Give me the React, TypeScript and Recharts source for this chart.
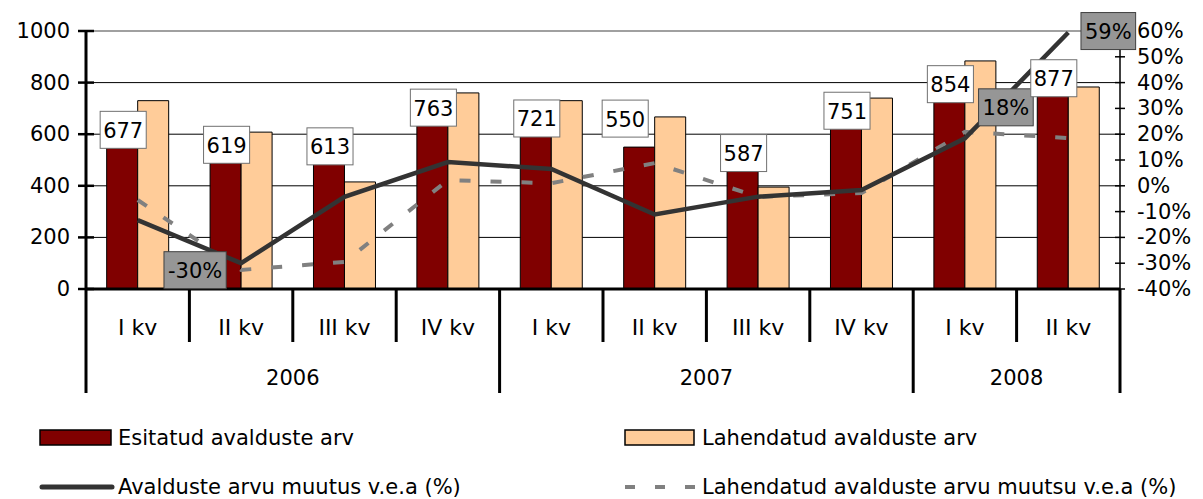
import React from 'react';
import {
  ComposedChart, Bar, Line, XAxis, YAxis, CartesianGrid, ReferenceLine, LabelList,
} from 'recharts';

// ---------- data ----------
const quarters = ['I kv', 'II kv', 'III kv', 'IV kv', 'I kv', 'II kv', 'III kv', 'IV kv', 'I kv', 'II kv'];
const years = ['2006', '2006', '2006', '2006', '2007', '2007', '2007', '2007', '2008', '2008'];
const esitatud = [677, 619, 613, 763, 721, 550, 587, 751, 854, 877];
const lahendatud = [730, 608, 415, 760, 730, 667, 395, 740, 884, 783];
const muutus = [-13.3, -30, -4.3, 9.2, 6.5, -11.1, -4.2, -1.6, 18.4, 59.4];
const lahMuutus = [-5.5, -32.6, -29.5, 2.2, 1, 8.8, -4.3, -2.8, 20.9, 18.5];
const leftTicks = [0, 200, 400, 600, 800, 1000];
const rightTicks = [-40, -30, -20, -10, 0, 10, 20, 30, 40, 50, 60];
const seriesNames = [
  'Esitatud avalduste arv',
  'Lahendatud avalduste arv',
  'Avalduste arvu muutus v.e.a (%)',
  'Lahendatud avalduste arvu muutsu v.e.a (%)',
];

const data = quarters.map((q, i) => ({
  key: `${years[i]}-${q}`,
  q,
  year: years[i],
  esitatud: esitatud[i],
  lahendatud: lahendatud[i],
  muutus: muutus[i],
  lahMuutus: lahMuutus[i],
}));

// ---------- layout / style ----------
const W = 1203;
const H = 499;
const LEFT_W = 86;
const RIGHT_W = 83;
const TOP = 31;
const XAXIS_H = 210;
const BAND = (W - LEFT_W - RIGHT_W) / data.length;
const FONT = '"DejaVu Sans", Verdana, sans-serif';
const FS = 21;
const AXFS = 22;
const RED = '#800000';
const PEACH = '#FFCC99';
const DARK = '#333333';
const GREY = '#808080';

const CHAR_W: Record<string, number> = { '-': 0.361, '%': 0.95 };
const textW = (s: string, fs: number) =>
  s.split('').reduce((a, c) => a + (CHAR_W[c] ?? 0.636), 0) * fs;

// label placement tweaks
const barLabelShift: Record<number, { dx: number; dy: number }> = {
  5: { dx: -15, dy: -44 },
};
const lineLabelShift: Record<number, { dx: number; dy: number }> = {
  1: { dx: -46, dy: 7 },
  8: { dx: 41, dy: -31 },
  9: { dx: 40, dy: -1.5 },
};

const XTick = (props: any) => {
  const { x, y, payload, index } = props;
  const i = index ?? payload.index;
  const left = x - BAND / 2;
  const yearStart = i === 0 || years[i] !== years[i - 1];
  const els: any[] = [];
  els.push(
    <line key="sep" x1={left} x2={left} y1={y} y2={y + (yearStart ? 104 : 53)} stroke="#000" strokeWidth={3} />
  );
  if (i === data.length - 1) {
    els.push(<line key="end" x1={left + BAND} x2={left + BAND} y1={y} y2={y + 104} stroke="#000" strokeWidth={3} />);
  }
  els.push(
    <text key="q" x={x} y={y + 38} textAnchor="middle" dominantBaseline="central" fontSize={AXFS} fontFamily={FONT} fill="#000">
      {payload.value}
    </text>
  );
  if (yearStart) {
    const n = years.filter((yy) => yy === years[i]).length;
    els.push(
      <text key="y" x={left + (n * BAND) / 2} y={y + 89} textAnchor="middle" dominantBaseline="central" fontSize={FS} fontFamily={FONT} fill="#000">
        {years[i]}
      </text>
    );
  }
  return <g>{els}</g>;
};

const LeftTick = (props: any) => {
  const { x, y, payload } = props;
  return (
    <g>
      <line x1={x - 8} x2={x + 8} y1={y} y2={y} stroke="#000" strokeWidth={2.5} />
      <text x={x - 16} y={y} textAnchor="end" dominantBaseline="central" fontSize={FS} fontFamily={FONT} fill="#000">
        {payload.value}
      </text>
    </g>
  );
};

const RightTick = (props: any) => {
  const { x, y, payload } = props;
  return (
    <g>
      <line x1={x - 5} x2={x + 5} y1={y} y2={y} stroke="#000" strokeWidth={1.5} />
      <text x={x + 17} y={y} textAnchor="start" dominantBaseline="central" fontSize={FS} fontFamily={FONT} fill="#000">
        {`${payload.value}%`}
      </text>
    </g>
  );
};

const BarValueLabel = (props: any) => {
  const { x, y, value, index } = props;
  if (x == null || y == null) return null;
  const s = barLabelShift[index] || { dx: 0, dy: 0 };
  const barW = BAND * 0.3;
  const cx = x - barW / 2 + 1 + s.dx;
  const top = y - 3 + s.dy;
  const txt = String(value);
  const w = textW(txt, FS) + 6;
  const h = 37;
  return (
    <g>
      <rect x={cx - w / 2} y={top} width={w} height={h} fill="#fff" stroke="#707070" strokeWidth={1} />
      <text x={cx} y={top + h / 2 + 1} textAnchor="middle" dominantBaseline="central" fontSize={FS} fontFamily={FONT} fill="#000">
        {txt}
      </text>
    </g>
  );
};

const LinePctLabel = (props: any) => {
  const { x, y, value, index } = props;
  const s = lineLabelShift[index];
  if (!s || x == null || y == null) return null;
  const txt = `${Math.round(value)}%`;
  const w = textW(txt, FS) + 8;
  const h = 37;
  const cx = x + s.dx;
  const cy = y + s.dy;
  return (
    <g>
      <rect x={cx - w / 2} y={cy - h / 2} width={w} height={h} fill="#969696" stroke="#404040" strokeWidth={1} />
      <text x={cx} y={cy + 1} textAnchor="middle" dominantBaseline="central" fontSize={FS} fontFamily={FONT} fill="#000">
        {txt}
      </text>
    </g>
  );
};

const LegendOverlay = () => (
  <svg width={W} height={H} style={{ position: 'absolute', left: 0, top: 0, pointerEvents: 'none' }}>
    <rect x={40} y={430} width={71} height={15} fill={RED} stroke="#000" strokeWidth={1.5} />
    <text x={118} y={438} dominantBaseline="central" fontSize={FS} fontFamily={FONT} fill="#000">{seriesNames[0]}</text>
    <rect x={625} y={430} width={69} height={15} fill={PEACH} stroke="#000" strokeWidth={1.5} />
    <text x={702} y={438} dominantBaseline="central" fontSize={FS} fontFamily={FONT} fill="#000">{seriesNames[1]}</text>
    <line x1={42} x2={112} y1={487} y2={487} stroke={DARK} strokeWidth={5} strokeLinecap="round" />
    <text x={118} y={487} dominantBaseline="central" fontSize={FS} fontFamily={FONT} fill="#000">{seriesNames[2]}</text>
    <line x1={625} x2={696} y1={487} y2={487} stroke={GREY} strokeWidth={4} strokeDasharray="10 20" />
    <text x={702} y={487} dominantBaseline="central" fontSize={FS} fontFamily={FONT} fill="#000">{seriesNames[3]}</text>
  </svg>
);

export default function App() {
  return (
    <div style={{ position: 'fixed', left: 0, top: 0, width: W, height: H, background: '#fff' }}>
      <ComposedChart
        width={W}
        height={H}
        data={data}
        margin={{ top: TOP, right: 0, bottom: 0, left: 0 }}
        barCategoryGap="20%"
        barGap={0}
      >
        <CartesianGrid vertical={false} stroke="#000" strokeWidth={1} />
        <ReferenceLine y={1000} stroke="#a0a0a0" strokeWidth={2} />
        <XAxis
          dataKey="key"
          interval={0}
          height={XAXIS_H}
          tick={(p: any) => <XTick {...p} payload={{ ...p.payload, value: quarters[p.index] }} />}
          tickLine={false}
          tickSize={0}
          tickMargin={0}
          axisLine={{ stroke: '#000', strokeWidth: 3 }}
        />
        <YAxis
          domain={[0, 1000]}
          ticks={leftTicks}
          width={LEFT_W}
          tick={<LeftTick />}
          tickLine={false}
          tickSize={0}
          tickMargin={0}
          axisLine={{ stroke: '#000', strokeWidth: 3 }}
          interval={0}
        />
        <YAxis
          yAxisId="right"
          orientation="right"
          domain={[-40, 60]}
          ticks={rightTicks}
          width={RIGHT_W}
          tick={<RightTick />}
          tickLine={false}
          tickSize={0}
          tickMargin={0}
          axisLine={{ stroke: '#000', strokeWidth: 1.5 }}
          interval={0}
        />
        <Bar dataKey="esitatud" name={seriesNames[0]} fill={RED} stroke="#000" strokeWidth={1} isAnimationActive={false} />
        <Bar dataKey="lahendatud" name={seriesNames[1]} fill={PEACH} stroke="#000" strokeWidth={1} isAnimationActive={false} />
        <Line
          yAxisId="right"
          dataKey="lahMuutus"
          name={seriesNames[3]}
          type="linear"
          stroke={GREY}
          strokeWidth={4}
          strokeDasharray="11 20"
          dot={false}
          activeDot={false}
          isAnimationActive={false}
        />
        <Line
          yAxisId="right"
          dataKey="muutus"
          name={seriesNames[2]}
          type="linear"
          stroke={DARK}
          strokeWidth={4.5}
          dot={false}
          activeDot={false}
          isAnimationActive={false}
        >
          <LabelList dataKey="muutus" content={<LinePctLabel />} />
        </Line>
        <Line
          dataKey="esitatud"
          stroke="none"
          dot={false}
          activeDot={false}
          legendType="none"
          isAnimationActive={false}
        >
          <LabelList dataKey="esitatud" content={<BarValueLabel />} />
        </Line>
      </ComposedChart>
      <LegendOverlay />
    </div>
  );
}
